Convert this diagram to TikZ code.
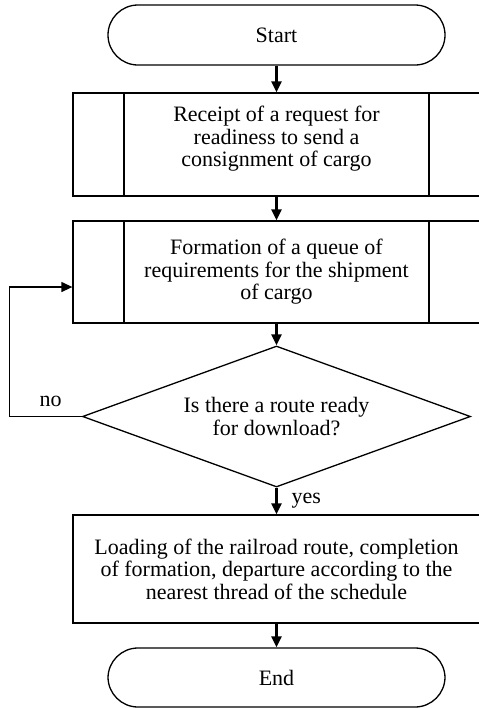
\documentclass[tikz,border=0pt]{standalone}
\usepackage{fontspec}
\setmainfont{Liberation Serif}
\usetikzlibrary{arrows.meta,shapes.geometric}

\begin{document}
\begin{tikzpicture}[x=0.5pt,y=-0.5pt,>={Triangle[length=5.5pt,width=5pt]},
    every node/.style={font=\fontsize{11}{11.3}\selectfont},
    terminal/.style={draw, line width=0.65pt, rectangle, rounded corners=15pt,
      minimum width=168.5pt, minimum height=30pt, inner sep=0pt},
    block/.style={draw, line width=0.65pt, rectangle, minimum width=203.5pt,
      align=center, inner sep=0pt},
    predef/.style={block, path picture={
      \draw[line width=0.65pt]
        ([xshift=25.5pt]path picture bounding box.north west) --
        ([xshift=25.5pt]path picture bounding box.south west)
        ([xshift=-25.5pt]path picture bounding box.north east) --
        ([xshift=-25.5pt]path picture bounding box.south east);}},
    decision/.style={draw, line width=0.65pt, diamond, aspect=2.75,
      minimum width=194pt, minimum height=70.5pt, inner sep=0pt, align=center},
    flow/.style={->, line width=1.1pt},
    backline/.style={->, line width=0.65pt}]

    \useasboundingbox (0,0) rectangle (478,708);

    % Blocks
    \node[terminal] (start) at (276.5,35) {Start};
    \node[predef, minimum height=51.5pt, text height=30.2pt, text depth=8.1pt]
      (recv) at (276.5,144.5)
      {Receipt of a request for\\readiness to send a\\consignment of cargo};
    \node[predef, minimum height=51pt] (queue) at (276.5,272)
      {Formation of a queue of\\requirements for the shipment\\of cargo};
    \node[decision] (cond) at (276.5,416.5)
      {Is there a route ready\\for download?};
    \node[block, minimum height=54pt] (load) at (276.5,569)
      {Loading of the railroad route, completion\\of formation, departure according to the\\nearest thread of the schedule};
    \node[terminal, minimum height=29.5pt] (stop) at (276.5,677.5) {End};

    % Main flow
    \draw[flow] (start) -- (recv);
    \draw[flow] (recv) -- (queue);
    \draw[flow] (queue) -- (cond);
    \draw[flow] (cond) -- node[midway, right=7pt, inner sep=0pt] {yes} (load);
    \draw[flow] (load) -- (stop);

    % Back to the queue
    \coordinate (noturn) at (9.5,416.5);
    \draw[backline] (cond.west) -- node[pos=0.43, above=4.5pt, inner sep=0pt] {no}
      (noturn) |- ([yshift=-7.5pt]queue.west);

\end{tikzpicture}
\end{document}
